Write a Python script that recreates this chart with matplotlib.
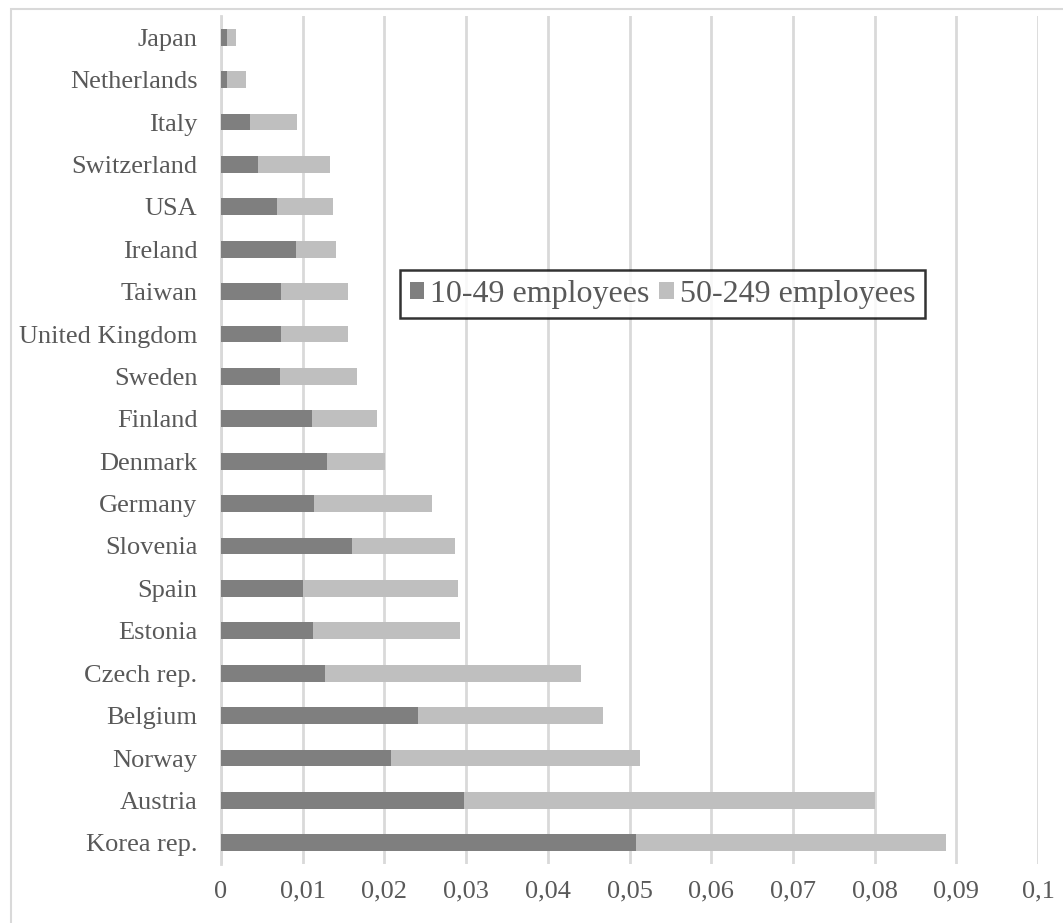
import matplotlib.pyplot as plt
import matplotlib.patches as mpatches
from matplotlib.ticker import FuncFormatter, MultipleLocator

# datos (de arriba hacia abajo)
countries = ["Japan", "Netherlands", "Italy", "Switzerland", "USA", "Ireland",
             "Taiwan", "United Kingdom", "Sweden", "Finland", "Denmark",
             "Germany", "Slovenia", "Spain", "Estonia", "Czech rep.",
             "Belgium", "Norway", "Austria", "Korea rep."]
small = [0.0007, 0.0007, 0.0036, 0.0045, 0.0069, 0.0092, 0.0073, 0.0073,
         0.0072, 0.0111, 0.0130, 0.0114, 0.0160, 0.0100, 0.0113, 0.0127,
         0.0241, 0.0208, 0.0298, 0.0508]
total = [0.0018, 0.0031, 0.0093, 0.0134, 0.0137, 0.0141, 0.0156, 0.0156,
         0.0167, 0.0191, 0.0201, 0.0258, 0.0287, 0.0290, 0.0293, 0.0441,
         0.0467, 0.0513, 0.0800, 0.0888]
medium = [t - s for t, s in zip(total, small)]

plt.rcParams["font.family"] = ["Liberation Serif", "DejaVu Serif"]
txt = "#595959"

fig = plt.figure(figsize=(10.63, 9.23), dpi=100)
ax = fig.add_axes([221 / 1063, 1 - 864 / 923, 817 / 1063, 848 / 923])

y = range(len(countries))
ax.barh(y, small, height=0.4, color="#7f7f7f", label="10-49 employees", zorder=3)
ax.barh(y, medium, left=small, height=0.4, color="#bfbfbf",
        label="50-249 employees", zorder=3)

ax.set_yticks(list(y))
ax.set_yticklabels(countries)
ax.set_ylim(len(countries) - 0.5, -0.5)
ax.set_xlim(0, 0.1)
ax.xaxis.set_major_locator(MultipleLocator(0.01))
ax.xaxis.set_major_formatter(FuncFormatter(lambda v, p: f"{v:.2f}".rstrip("0").rstrip(".").replace(".", ",") if v else "0"))
ax.grid(axis="x", color="#d9d9d9", linewidth=2, zorder=0)
for s in ["top", "right", "bottom"]:
    ax.spines[s].set_visible(False)
ax.spines["left"].set_color("#d9d9d9")
ax.spines["left"].set_linewidth(2)
ax.tick_params(axis="both", length=0, labelsize=19, colors=txt)
ax.tick_params(axis="y", pad=17)
ax.tick_params(axis="x", pad=12)

leg = ax.legend(loc="upper left", bbox_to_anchor=(0.219, 0.7005), ncol=2,
                fontsize=23, frameon=True, fancybox=False, handlelength=0.45,
                handleheight=0.45, handletextpad=0.2, columnspacing=0.3,
                borderpad=0.3, borderaxespad=0)
leg.get_frame().set_edgecolor("black")
leg.get_frame().set_linewidth(1.8)
for t in leg.get_texts():
    t.set_color(txt)

# borde exterior del grafico
fig.patches.append(mpatches.Rectangle((11 / 1063, -0.1), 1.2, (923 - 9) / 923 + 0.1,
                                      transform=fig.transFigure, fill=False,
                                      edgecolor="#d9d9d9", linewidth=1.5))

fig.savefig("out.png", dpi=100)
